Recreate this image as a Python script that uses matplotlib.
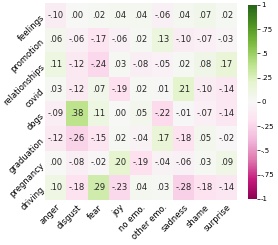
import matplotlib
matplotlib.use("Agg")
import matplotlib.pyplot as plt
import numpy as np
from matplotlib.ticker import FuncFormatter

topics = ['feelings', 'promotion', 'relationships', 'covid', 'dogs',
          'graduation', 'pregnancy', 'driving']
emotions = ['anger', 'disgust', 'fear', 'joy', 'no emo.', 'other emo.',
            'sadness', 'shame', 'surprise']

feelings = [-.10, .00, .02, .04, .04, -.06, .04, .07, .02]
promotion = [.06, -.06, -.17, -.06, .02, .13, -.10, -.07, -.03]
relationships = [.11, -.12, -.24, .03, -.08, -.05, .02, .08, .17]
covid = [.03, -.12, .07, -.19, .02, .01, .21, -.10, -.14]
dogs = [-.09, .38, .11, .00, .05, -.22, -.01, -.07, -.14]
graduation = [-.12, -.26, -.15, .02, -.04, .17, -.18, .05, -.02]
pregnancy = [.00, -.08, -.02, .20, -.19, -.04, -.06, .03, .09]
driving = [.10, -.18, .29, -.23, .04, .03, -.28, -.18, -.14]

data = np.array([feelings, promotion, relationships, covid, dogs,
                 graduation, pregnancy, driving])

def short(v, pos=None):
    s = '%.2f' % v
    return s.replace('0.', '.', 1)

def cbfmt(v, pos=None):
    s = ('%.2f' % v).rstrip('0').rstrip('.')
    s = s.replace('0.', '.', 1)
    if s in ('-0', ''):
        s = '0'
    return s

fig = plt.figure(figsize=(2.78, 2.45), dpi=100)
ax = fig.add_axes([0.162, 0.184, 0.69, 0.804])
cax = fig.add_axes([0.892, 0.188, 0.032, 0.792])

im = ax.pcolormesh(data, cmap='PiYG', vmin=-1, vmax=1)
ax.set_xlim(0, len(emotions))
ax.set_ylim(len(topics), 0)
for i in range(len(topics)):
    for j in range(len(emotions)):
        ax.text(j + 0.5, i + 0.5, short(data[i, j]), ha='center', va='center',
                fontsize=6, color='#262626')

ax.set_xticks(np.arange(len(emotions)) + 0.5)
ax.set_xticklabels(emotions, rotation=45, ha='right', rotation_mode='anchor', fontsize=6)
ax.set_yticks(np.arange(len(topics)) + 0.5)
ax.set_yticklabels(topics, rotation=45, ha='right', rotation_mode='anchor', fontsize=6)
ax.tick_params(length=0, pad=2)
for s in ax.spines.values():
    s.set_visible(False)

cb = fig.colorbar(im, cax=cax, ticks=[-1, -.75, -.5, -.25, 0, .25, .5, .75, 1])
cb.ax.yaxis.set_major_formatter(FuncFormatter(cbfmt))
cb.ax.tick_params(labelsize=5, length=2, width=0.5, pad=1)
cb.outline.set_visible(False)

fig.savefig('out.png', dpi=100)
